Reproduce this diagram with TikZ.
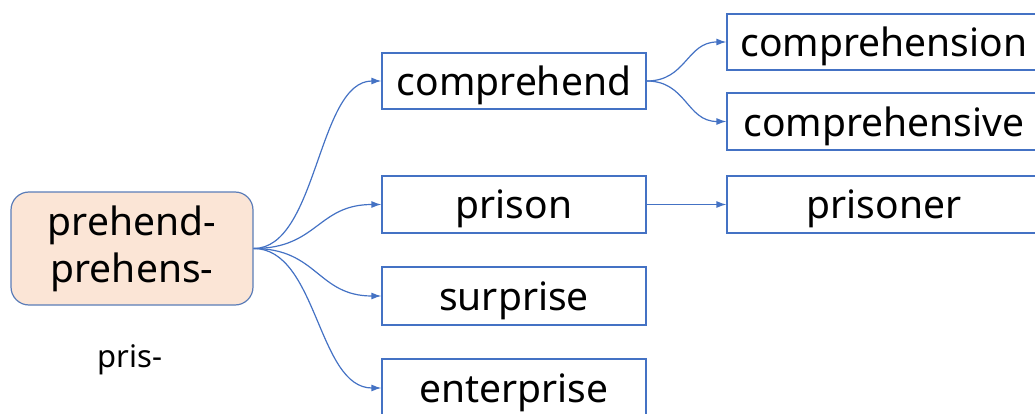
\documentclass[tikz,border=0pt]{standalone}
\usepackage{fontspec}
\setmainfont{Noto Sans}
\usetikzlibrary{arrows.meta,calc}
\definecolor{lineblue}{HTML}{4472C4}
\definecolor{rootfill}{HTML}{FBE5D6}
\definecolor{rootdraw}{HTML}{5B7DB8}
\tikzset{
  wordbox/.style={draw=lineblue, line width=1.2pt, inner sep=0pt, minimum height=56pt, font=\fontsize{39}{44}\selectfont, text=black, text depth=0pt},
  rootbox/.style={draw=rootdraw, fill=rootfill, line width=1.2pt, rounded corners=18pt, inner sep=0pt, minimum width=242pt, minimum height=113pt, align=center, font=\fontsize{39}{47}\selectfont},
  conn/.style={draw=lineblue, line width=1.2pt, -{Latex[length=10pt,width=7pt]}},
  plain/.style={font=\fontsize{31}{36}\selectfont, inner sep=0pt}
}
\begin{document}
\begin{tikzpicture}[x=1pt,y=-1pt]
\useasboundingbox (0,0) rectangle (1035,414);
\node[rootbox] (root) at (132,248.5) {prehend-\\prehens-};
\node[plain] (pris) at (130,360) {pris-};
\node[wordbox, minimum width=264pt] (comprehend) at (514,81) {comprehend};
\node[wordbox, minimum width=264pt, minimum height=57pt] (prison) at (514,204.5) {prison};
\node[wordbox, minimum width=264pt, minimum height=58pt] (surprise) at (514,296) {surprise};
\node[wordbox, minimum width=264pt, minimum height=58pt] (enterprise) at (514,388) {enterprise};
\node[wordbox, minimum width=314pt] (comprehension) at (884,42) {comprehension};
\node[wordbox, minimum width=314pt, minimum height=57pt] (comprehensive) at (884,121.5) {comprehensive};
\node[wordbox, minimum width=314pt, minimum height=57pt] (prisoner) at (884,204.5) {prisoner};
\foreach \t in {comprehend,prison,surprise,enterprise}{
  \draw[conn] (root.east) .. controls ++(64,0) and ($(\t.west)+(-64,0)$) .. (\t.west);
}
\draw[conn] (comprehend.east) .. controls ++(40,0) and ($(comprehension.west)+(-40,0)$) .. (comprehension.west);
\draw[conn] (comprehend.east) .. controls ++(40,0) and ($(comprehensive.west)+(-40,0)$) .. (comprehensive.west);
\draw[conn] (prison.east) -- (prisoner.west);
\end{tikzpicture}
\end{document}
